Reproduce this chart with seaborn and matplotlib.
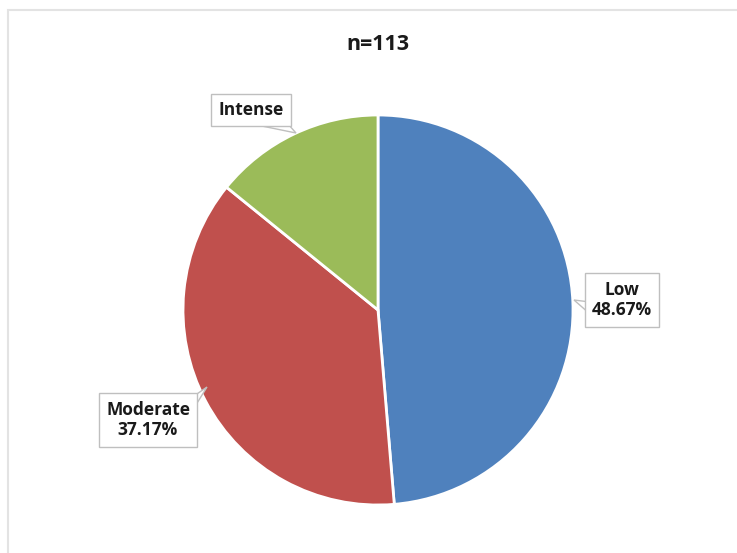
# ==========================================
# PIE CHART - INTENSITY LEVELS (n=113)
# ==========================================

import numpy as np
import matplotlib
matplotlib.use("Agg")
import matplotlib.pyplot as plt
import seaborn as sns
from matplotlib.patches import Rectangle, Polygon

# ==========================================
# DATA
# ==========================================

categories = ["Low", "Moderate", "Intense"]
shares = [48.67, 37.17, 14.16]
label_texts = ["Low\n48.67%", "Moderate\n37.17%", "Intense"]
title_text = "n=113"

colors = ["#4F81BD", "#C0504D", "#9BBB59"]

# ==========================================
# STYLE
# ==========================================

sns.set_theme(style="white")
plt.rcParams['font.family'] = ['Open Sans', 'DejaVu Sans']

fig = plt.figure(figsize=(7.37, 5.53), dpi=100)
ax = fig.add_axes([0, 0, 1, 1])

# pixel geometry -> data units (radius = 1)
R_PX = 195.0
CX, CY = 378.0, 310.0
W, H = 737.0, 553.0


def to_data(px, py):
    return (px - CX) / R_PX, (CY - py) / R_PX


# ==========================================
# PIE
# ==========================================

wedges, _ = ax.pie(
    shares,
    colors=colors,
    startangle=90,
    counterclock=False,
    radius=1.0,
    wedgeprops=dict(edgecolor="white", linewidth=2)
)

ax.set_xlim(-CX / R_PX, (W - CX) / R_PX)
ax.set_ylim(-(H - CY) / R_PX, CY / R_PX)
ax.set_aspect("equal")
ax.axis("off")

# chart border (right and bottom edges lie outside the picture)
x0, y0 = to_data(8, 600)
x1, y1 = to_data(780, 10)
ax.add_patch(Rectangle((x0, y0), x1 - x0, y1 - y0, fill=False,
                       edgecolor="#e3e3e3", linewidth=1.5, zorder=0))

# ==========================================
# CALLOUT LABELS
# ==========================================

label_pos = [(622, 300), (148, 420), (251, 110)]

# callout pointers: two base points inside the box edge + tip
pointers = [
    [(590, 302), (574, 300), (590, 314)],
    [(194, 396), (207, 387), (194, 408)],
    [(252, 124), (296, 133), (288, 124)],
]

for text, lp, ptr in zip(label_texts, label_pos, pointers):
    ax.add_patch(Polygon([to_data(*p) for p in ptr], closed=False,
                         fc="white", ec="#bfbfbf", lw=1, zorder=4))
    tx, ty = to_data(*lp)
    ax.text(
        tx, ty, text,
        ha="center", va="center",
        fontsize=12.5, fontweight="bold", color="#1a1a1a",
        linespacing=1.2,
        bbox=dict(boxstyle="square,pad=0.42", fc="white", ec="#bfbfbf", lw=1),
        zorder=5
    )

# ==========================================
# TITLE
# ==========================================

tx, ty = to_data(378, 45)
ax.text(tx, ty, title_text, ha="center", va="center",
        fontsize=15.5, fontweight="bold", color="#1a1a1a")

fig.savefig("out.png", dpi=100)
